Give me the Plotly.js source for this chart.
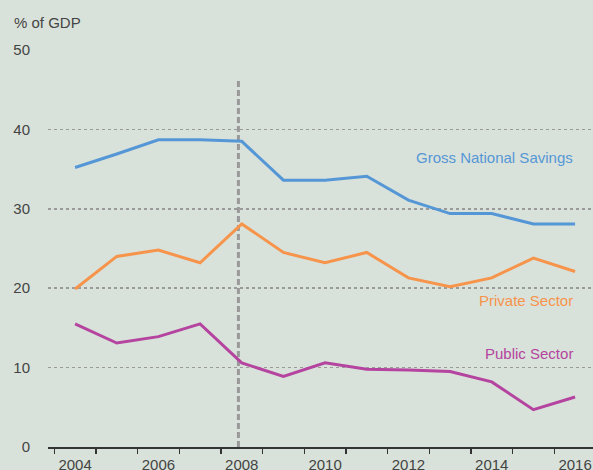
<!DOCTYPE html>
<html>
<head>
<meta charset="utf-8">
<script src="https://cdn.plot.ly/plotly-3.0.1.min.js"></script>
<style>html,body{margin:0;padding:0;background:#d9e2da;}#chart{width:593px;height:470px;}</style>
</head>
<body>
<div id="chart"></div>
<script>
var years = [2004, 2005, 2006, 2007, 2008, 2009, 2010, 2011, 2012, 2013, 2014, 2015, 2016];
var grossNationalSavings = [35.2, 36.9, 38.7, 38.7, 38.5, 33.6, 33.6, 34.1, 31.1, 29.4, 29.4, 28.1, 28.1];
var privateSector = [19.9, 24.0, 24.8, 23.2, 28.1, 24.5, 23.2, 24.5, 21.3, 20.2, 21.3, 23.8, 22.1];
var publicSector = [15.5, 13.1, 13.9, 15.5, 10.6, 8.9, 10.6, 9.8, 9.7, 9.5, 8.2, 4.7, 6.3];
var yearLabels = ['2004', '2006', '2008', '2010', '2012', '2014', '2016'];
var yearLabelVals = [2004, 2006, 2008, 2010, 2012, 2014, 2016];
var yTicks = [0, 10, 20, 30, 40, 50];
var seriesNames = ['Gross National Savings', 'Private Sector', 'Public Sector'];
var seriesColors = ['#5597d6', '#f7944b', '#b4449f'];
var labelY = [36.5, 18.4, 11.8];
var crisisYear = 2007.92;
var crisisTop = 46.2;

var font = 'Liberation Sans, Arial, sans-serif';
var seriesData = [grossNationalSavings, privateSector, publicSector];
var traces = seriesData.map(function (vals, i) {
  return {x: years, y: vals, type: 'scatter', mode: 'lines', name: seriesNames[i],
    line: {color: seriesColors[i], width: 3}, hoverinfo: 'skip'};
});
var tickEdges = [];
for (var k = 0; k <= years.length; k++) tickEdges.push(years[0] - 0.5 + k);

var annotations = seriesNames.map(function (n, i) {
  return {x: years[years.length - 1], y: labelY[i], xref: 'x', yref: 'y', text: n,
    showarrow: false, xanchor: 'right', yanchor: 'middle',
    font: {family: font, size: 15, color: seriesColors[i]}};
});
annotations.push({x: -0.066, y: 1.07, xref: 'paper', yref: 'paper', text: '% of GDP',
  showarrow: false, xanchor: 'left', yanchor: 'middle', font: {family: font, size: 15, color: '#444'}});

var layout = {
  width: 593, height: 470,
  margin: {l: 48, r: 0, t: 50, b: 23},
  paper_bgcolor: '#d9e2da', plot_bgcolor: '#d9e2da',
  showlegend: false,
  font: {family: font, size: 15, color: '#444'},
  xaxis: {range: [2003.35, 2016.43], tickmode: 'array', tickvals: tickEdges,
    ticks: 'outside', ticklen: 5, tickwidth: 1.5, tickcolor: '#333',
    showticklabels: false, showline: true, linecolor: '#333', linewidth: 1.5,
    showgrid: false, zeroline: false, fixedrange: true},
  xaxis2: {range: [2003.35, 2016.43], overlaying: 'x', anchor: 'y', side: 'bottom',
    tickmode: 'array', tickvals: yearLabelVals, ticktext: yearLabels, ticks: '',
    ticklabelstandoff: 7, showline: false, showgrid: false, zeroline: false,
    tickfont: {family: font, size: 15, color: '#444'}},
  yaxis: {range: [0, 50], tickmode: 'array', tickvals: yTicks, ticks: '',
    ticklabelstandoff: 17, showgrid: true, gridcolor: '#9a9a9a', gridwidth: 1.5, griddash: '3px,3px',
    zeroline: false, showline: false, tickfont: {family: font, size: 15, color: '#444'}},
  shapes: [{type: 'line', xref: 'x', yref: 'y', x0: crisisYear, x1: crisisYear, y0: 0, y1: crisisTop,
    line: {color: '#999', width: 3, dash: '6px,3px'}, layer: 'below'}],
  annotations: annotations
};
traces.push({x: [years[0]], y: [null], xaxis: 'x2', type: 'scatter', mode: 'lines', showlegend: false, hoverinfo: 'skip'});
Plotly.newPlot('chart', traces, layout, {displayModeBar: false, staticPlot: true});
</script>
</body>
</html>
